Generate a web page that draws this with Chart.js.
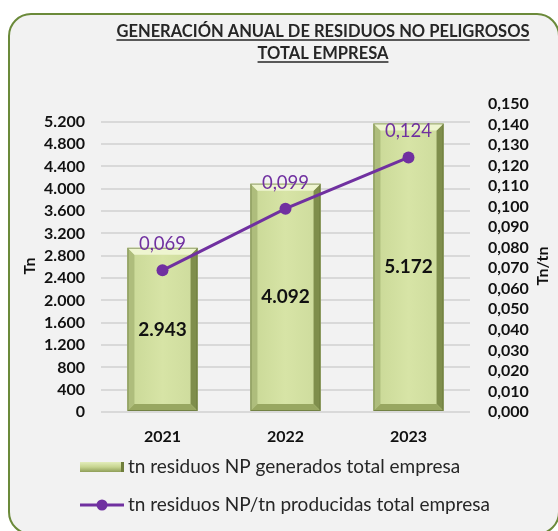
<!DOCTYPE html>
<html><head><meta charset="utf-8">
<script src="https://cdn.jsdelivr.net/npm/chart.js@4.4.0/dist/chart.umd.min.js"></script>
<style>html,body{margin:0;padding:0;background:#fff;}canvas{display:block}</style>
</head><body>
<canvas id="c" width="558" height="531"></canvas>
<script>
const years = ['2021', '2022', '2023'];
const residuosTn = [2943, 4092, 5172];
const ratioTnTn = [0.069, 0.099, 0.124];
const leftTicks = [0, 400, 800, 1200, 1600, 2000, 2400, 2800, 3200, 3600, 4000, 4400, 4800, 5200];
const rightTicks = [0, 0.01, 0.02, 0.03, 0.04, 0.05, 0.06, 0.07, 0.08, 0.09, 0.10, 0.11, 0.12, 0.13, 0.14, 0.15];
const titleLines = ['GENERACIÓN ANUAL DE RESIDUOS NO PELIGROSOS', 'TOTAL EMPRESA'];
const seriesNames = ['tn residuos NP generados total empresa', 'tn residuos NP/tn producidas total empresa'];
const axisTitles = ['Tn', 'Tn/tn'];

const FONT = 'Lato, "Open Sans", sans-serif';
const PURPLE = '#7030a0';

function fmtThousands(v) {
  const s = String(Math.round(v));
  return s.replace(/\B(?=(\d{3})+(?!\d))/g, '.');
}
function fmtDec(v) { return v.toFixed(3).replace('.', ','); }

const bgPlugin = {
  id: 'bg',
  beforeDraw(chart) {
    const ctx = chart.ctx;
    ctx.save();
    ctx.fillStyle = '#ffffff';
    ctx.fillRect(0, 0, chart.width, chart.height);
    ctx.beginPath();
    ctx.roundRect(9, 14, 550, 520, 22);
    ctx.fillStyle = '#f2f2f2';
    ctx.fill();
    ctx.lineWidth = 2;
    ctx.strokeStyle = '#6b8a3a';
    ctx.stroke();
    ctx.restore();
  }
};

const bevelPlugin = {
  id: 'bevel',
  afterDatasetDraw(chart, args) {
    if (args.index !== 0) return;
    const ctx = chart.ctx;
    const meta = args.meta;
    meta.data.forEach(el => {
      const x0 = el.x - el.width / 2, x1 = el.x + el.width / 2;
      const y0 = el.y, yb = el.base;
      const b = 7;
      ctx.save();
      const g = ctx.createLinearGradient(x0, 0, x1, 0);
      g.addColorStop(0, '#c9d896');
      g.addColorStop(0.5, '#d7e4a6');
      g.addColorStop(1, '#cddb9c');
      ctx.fillStyle = g;
      ctx.fillRect(x0, y0, x1 - x0, yb - y0);
      const poly = (pts, col) => {
        ctx.beginPath();
        ctx.moveTo(pts[0][0], pts[0][1]);
        for (let i = 1; i < pts.length; i++) ctx.lineTo(pts[i][0], pts[i][1]);
        ctx.closePath();
        ctx.fillStyle = col;
        ctx.fill();
      };
      poly([[x0, y0], [x0 + b, y0 + b], [x0 + b, yb - b], [x0, yb]], '#aebd7c');
      poly([[x1, y0], [x1 - b, y0 + b], [x1 - b, yb - b], [x1, yb]], '#7f8e4c');
      poly([[x0, yb], [x0 + b, yb - b], [x1 - b, yb - b], [x1, yb]], '#98a761');
      poly([[x0, y0], [x1, y0], [x1 - b, y0 + b], [x0 + b, y0 + b]], '#eef5d0');
      ctx.strokeStyle = 'rgba(90,105,50,0.6)';
      ctx.lineWidth = 1;
      ctx.strokeRect(x0 + 0.5, y0 + 0.5, x1 - x0 - 1, yb - y0 - 1);
      ctx.restore();
    });
  }
};

const labelsPlugin = {
  id: 'labels',
  afterDatasetsDraw(chart) {
    const ctx = chart.ctx;
    ctx.save();
    ctx.textAlign = 'center';
    ctx.textBaseline = 'middle';
    const m0 = chart.getDatasetMeta(0);
    ctx.font = 'bold 19px ' + FONT;
    ctx.fillStyle = '#111';
    m0.data.forEach((el, i) => {
      ctx.fillText(fmtThousands(residuosTn[i]), el.x, (el.y + el.base) / 2);
    });
    const m1 = chart.getDatasetMeta(1);
    ctx.font = '18.5px ' + FONT;
    ctx.fillStyle = PURPLE;
    m1.data.forEach((el, i) => {
      ctx.fillText(fmtDec(ratioTnTn[i]), el.x, el.y - 26);
    });
    ctx.restore();
  }
};

const decorPlugin = {
  id: 'decor',
  afterDraw(chart) {
    const ctx = chart.ctx;
    ctx.save();
    ctx.fillStyle = '#262626';
    ctx.strokeStyle = '#262626';
    ctx.textAlign = 'center';
    ctx.textBaseline = 'alphabetic';
    ctx.font = 'bold 16.5px ' + FONT;
    const cx = 323;
    const ys = [37, 59];
    titleLines.forEach((t, i) => {
      ctx.fillText(t, cx, ys[i]);
      const w = ctx.measureText(t).width;
      ctx.lineWidth = 1.3;
      ctx.beginPath();
      ctx.moveTo(cx - w / 2, ys[i] + 3);
      ctx.lineTo(cx + w / 2, ys[i] + 3);
      ctx.stroke();
    });
    ctx.font = 'bold 16px ' + FONT;
    ctx.fillStyle = '#111';
    ctx.textBaseline = 'middle';
    const midY = (chart.chartArea.top + chart.chartArea.bottom) / 2;
    [[30, axisTitles[0]], [543, axisTitles[1]]].forEach(([x, t]) => {
      ctx.save();
      ctx.translate(x, midY + 8);
      ctx.rotate(-Math.PI / 2);
      ctx.fillText(t, 0, 0);
      ctx.restore();
    });
    ctx.textAlign = 'left';
    ctx.font = '19px ' + FONT;
    const lx = 80, ly1 = 467, ly2 = 505;
    const lg = ctx.createLinearGradient(0, ly1 - 5, 0, ly1 + 5);
    lg.addColorStop(0, '#e3edbb');
    lg.addColorStop(0.5, '#c6d48f');
    lg.addColorStop(1, '#8f9e58');
    ctx.fillStyle = lg;
    ctx.fillRect(lx, ly1 - 5, 44, 10);
    ctx.fillStyle = '#6f7e3c';
    ctx.fillRect(lx + 41, ly1 - 5, 3, 10);
    ctx.fillStyle = '#262626';
    ctx.fillText(seriesNames[0], lx + 48, ly1);
    ctx.strokeStyle = PURPLE;
    ctx.lineWidth = 3;
    ctx.beginPath();
    ctx.moveTo(lx, ly2);
    ctx.lineTo(lx + 44, ly2);
    ctx.stroke();
    ctx.fillStyle = PURPLE;
    ctx.beginPath();
    ctx.arc(lx + 22, ly2, 5.5, 0, Math.PI * 2);
    ctx.fill();
    ctx.fillStyle = '#262626';
    ctx.fillText(seriesNames[1], lx + 48, ly2);
    ctx.restore();
  }
};

new Chart(document.getElementById('c'), {
  type: 'bar',
  data: {
    labels: years,
    datasets: [
      {
        type: 'bar',
        label: seriesNames[0],
        data: residuosTn,
        yAxisID: 'y',
        backgroundColor: '#d7e4a6',
        barPercentage: 0.57,
        categoryPercentage: 1,
        order: 1
      },
      {
        type: 'line',
        label: seriesNames[1],
        data: ratioTnTn,
        yAxisID: 'y2',
        borderColor: PURPLE,
        backgroundColor: PURPLE,
        borderWidth: 3,
        pointRadius: 6,
        pointBackgroundColor: PURPLE,
        pointBorderWidth: 0,
        tension: 0,
        order: 0
      }
    ]
  },
  options: {
    responsive: false,
    animation: false,
    layout: { padding: { left: 0, right: 0, top: 104, bottom: 79 } },
    plugins: { legend: { display: false }, title: { display: false }, tooltip: { enabled: false } },
    scales: {
      x: {
        grid: { display: false, drawTicks: false },
        border: { display: false },
        ticks: { font: { family: FONT, size: 16, weight: 'bold' }, color: '#111', padding: 15 },
        afterFit(s) { s.height = 40; }
      },
      y: {
        position: 'left',
        min: 0, max: 5520,
        ticks: {
          autoSkip: false, padding: 16,
          font: { family: FONT, size: 16, weight: 'bold' }, color: '#111',
          callback: v => fmtThousands(v)
        },
        afterBuildTicks(s) { s.ticks = leftTicks.map(v => ({ value: v })); },
        grid: { color: '#d9d9d9', lineWidth: 2, drawTicks: false },
        border: { display: false },
        afterFit(s) { s.width = 101; }
      },
      y2: {
        position: 'right',
        min: 0, max: 0.15,
        ticks: {
          autoSkip: false, padding: 18,
          font: { family: FONT, size: 16, weight: 'bold' }, color: '#111',
          callback: v => fmtDec(v)
        },
        afterBuildTicks(s) { s.ticks = rightTicks.map(v => ({ value: v })); },
        grid: { display: false, drawTicks: false },
        border: { display: false },
        afterFit(s) { s.width = 88; }
      }
    }
  },
  plugins: [bgPlugin, bevelPlugin, labelsPlugin, decorPlugin]
});
</script>
</body></html>
